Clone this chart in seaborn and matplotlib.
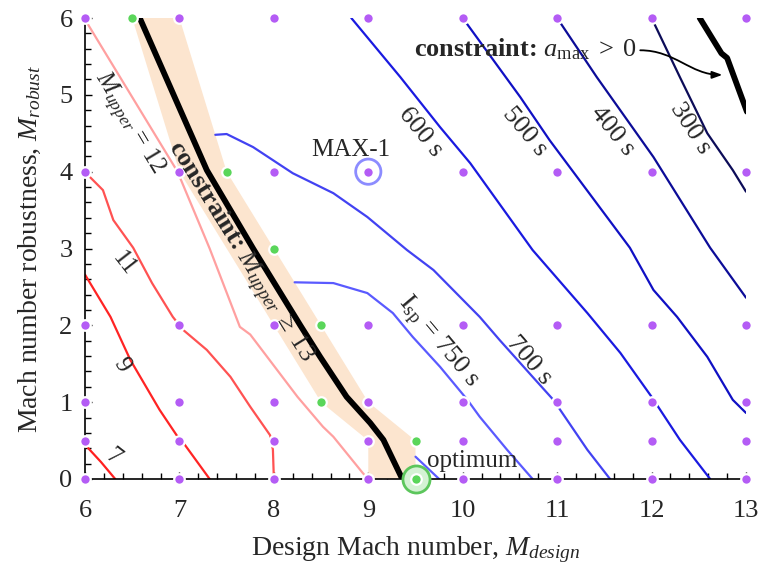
import matplotlib
matplotlib.use("Agg")
import matplotlib.pyplot as plt
import seaborn as sns
from matplotlib.ticker import MultipleLocator
from matplotlib.patches import FancyArrowPatch
from matplotlib.path import Path

# ---------------- data ----------------
# sampled design grid
grid_mach = [6, 7, 8, 9, 10, 11, 12, 13]
grid_robust = [0, 0.5, 1, 2, 4, 6]
# refinement samples near the constraint boundary
refined_mach = [6.5, 7.5, 8.0, 8.5, 8.5, 9.5, 9.5]
refined_robust = [6.0, 4.0, 3.0, 2.0, 1.0, 0.5, 0.0]

# M_upper contours
mu7_x = [6.02, 6.17, 6.32]
mu7_y = [0.42, 0.22, 0.0]
mu9_x = [6.0, 6.27, 6.48, 6.79, 6.97, 7.06, 7.32]
mu9_y = [2.66, 2.11, 1.55, 0.90, 0.57, 0.44, 0.0]
mu11_x = [6.02, 6.19, 6.30, 6.51, 6.71, 6.93, 7.04, 7.29, 7.54, 7.75, 7.96, 7.99, 8.0]
mu11_y = [3.97, 3.76, 3.37, 3.01, 2.55, 2.11, 1.94, 1.68, 1.33, 0.94, 0.57, 0.38, 0.0]
mu12_x = [6.02, 6.98, 7.32, 7.64, 7.75, 8.25, 8.52, 8.63, 8.94, 9.0]
mu12_y = [5.94, 4.0, 3.0, 1.98, 1.88, 1.07, 0.68, 0.55, 0.08, 0.0]

# M_upper >= 13 constraint boundary and its uncertainty band
con13_x = [6.58, 7.29, 7.78, 8.28, 8.49, 8.77, 9.02, 9.16, 9.36]
con13_y = [6.0, 4.02, 3.0, 2.0, 1.59, 1.07, 0.73, 0.51, 0.0]
band_x = [6.5, 7.0, 7.5, 8.0, 8.5, 9.0, 9.5, 9.5, 9.0, 9.0, 8.5, 8.0, 7.5, 7.0]
band_y = [6.0, 6.0, 4.0, 3.0, 2.0, 1.0, 0.5, 0.0, 0.0, 0.5, 1.0, 2.0, 3.0, 4.0]

# a_max > 0 constraint boundary
amax_x = [12.51, 12.74, 12.80, 13.01]
amax_y = [6.0, 5.54, 5.48, 4.78]

# specific impulse contours (s)
isp750_x = [8.22, 8.63, 8.99, 9.26, 9.47, 9.76, 10.05, 10.18, 10.47, 10.74]
isp750_y = [2.56, 2.55, 2.42, 2.16, 1.85, 1.46, 1.03, 0.81, 0.38, 0.0]
isp750b_x = [9.5, 9.75]
isp750b_y = [0.29, 0.0]
isp700_x = [7.38, 7.50, 7.78, 8.20, 8.63, 8.99, 9.41, 9.69, 10.18, 10.39, 10.74, 10.96, 11.32, 11.56]
isp700_y = [4.48, 4.49, 4.32, 3.98, 3.72, 3.41, 2.98, 2.72, 2.11, 1.81, 1.33, 1.03, 0.38, 0.0]
isp600_x = [8.82, 9.34, 9.76, 10.08, 10.74, 11.32, 11.67, 12.0, 12.30, 12.62]
isp600_y = [6.0, 5.23, 4.58, 4.11, 2.98, 2.16, 1.64, 1.07, 0.51, 0.0]
isp500_x = [10.0, 10.61, 10.92, 11.77, 12.02, 12.27, 12.59, 12.86, 13.0]
isp500_y = [6.0, 4.97, 4.41, 3.01, 2.46, 2.11, 1.59, 1.03, 0.86]
isp400_x = [11.0, 11.42, 12.02, 12.62, 13.0]
isp400_y = [6.0, 5.23, 4.19, 3.01, 2.36]
isp300_x = [12.0, 12.30, 12.59, 12.86, 13.0]
isp300_y = [6.0, 5.23, 4.50, 4.02, 3.74]

max1_point = (9.0, 4.0)
optimum_point = (9.5, 0.0)

# ---------------- style ----------------
sns.set_theme(style="ticks")
plt.rcParams["font.family"] = ["Liberation Serif", "DejaVu Serif"]
plt.rcParams["mathtext.fontset"] = "custom"
plt.rcParams["mathtext.rm"] = "Liberation Serif"
plt.rcParams["mathtext.it"] = "Liberation Serif:italic"
plt.rcParams["mathtext.bf"] = "Liberation Serif:bold"

fig = plt.figure(figsize=(7.61, 5.72), dpi=100)
ax = fig.add_axes([0.1117, 0.1626, 0.8686, 0.8059])

ax.fill(band_x, band_y, color="#fce5cf", lw=0, zorder=1)


def curve(xs, ys, color, lw=1.6, z=2):
    sns.lineplot(x=xs, y=ys, sort=False, estimator=None, color=color,
                 lw=lw, ax=ax, zorder=z)


curve(mu7_x, mu7_y, "#ff1f1f")
curve(mu9_x, mu9_y, "#ff2424")
curve(mu11_x, mu11_y, "#ff5252")
curve(mu12_x, mu12_y, "#ffa0a0")

curve(isp750_x, isp750_y, "#5a5aff")
curve(isp750b_x, isp750b_y, "#5a5aff")
curve(isp700_x, isp700_y, "#4242f2")
curve(isp600_x, isp600_y, "#1a1ae0")
curve(isp500_x, isp500_y, "#1010c4")
curve(isp400_x, isp400_y, "#0c0c98")
curve(isp300_x, isp300_y, "#0c0c58")

curve(con13_x, con13_y, "black", lw=4.2, z=3)
curve(amax_x, amax_y, "black", lw=4.2, z=3)

# highlighted designs
ax.scatter([optimum_point[0]], [optimum_point[1]], s=380, facecolor="#d4f2d4",
           edgecolor="#5cc65c", lw=2, zorder=6, clip_on=False)
ax.scatter([max1_point[0]], [max1_point[1]], s=330, facecolor="none",
           edgecolor="#8c8cff", lw=2, zorder=6, clip_on=False)

gx = [x for y in grid_robust for x in grid_mach]
gy = [y for y in grid_robust for x in grid_mach]
sns.scatterplot(x=gx, y=gy, color="#b45cf5", s=58, edgecolor="white",
                linewidth=1.6, ax=ax, zorder=7, clip_on=False)
sns.scatterplot(x=refined_mach, y=refined_robust, color="#5ad65a", s=58,
                edgecolor="white", linewidth=1.6, ax=ax, zorder=8, clip_on=False)

# contour labels
lab = dict(ha="center", va="center", rotation_mode="anchor", zorder=9)
ax.text(6.30, 0.29, "7", fontsize=18, rotation=-38, **lab)
ax.text(6.39, 1.48, "9", fontsize=18, rotation=-58, **lab)
ax.text(6.41, 2.80, "11", fontsize=18, rotation=-52, **lab)
ax.text(6.46, 4.63, r"$M_{upper}$ = 12", fontsize=18, rotation=-59, **lab)
ax.text(7.63, 2.95, r"constraint: $M_{upper}\;\geq\;13$", fontweight="bold",
        fontsize=19, rotation=-58, **lab)
ax.text(9.55, 4.52, "600 s", fontsize=19, rotation=-51, **lab)
ax.text(10.66, 4.52, "500 s", fontsize=19, rotation=-50, **lab)
ax.text(11.59, 4.53, "400 s", fontsize=19, rotation=-51, **lab)
ax.text(12.41, 4.56, "300 s", fontsize=19, rotation=-57, **lab)
ax.text(10.70, 1.55, "700 s", fontsize=19, rotation=-49, **lab)
ax.text(9.73, 1.78, r"I$_{\mathrm{sp}}$ = 750 s", fontsize=19, rotation=-50, **lab)
ax.text(8.81, 4.28, "MAX-1", fontsize=18, ha="center", va="center", zorder=9)
ax.text(10.10, 0.24, "optimum", fontsize=18, ha="center", va="center", zorder=9)
ax.text(11.84, 5.60, r"constraint: $a_{\mathrm{max}}\;>\;0$", fontweight="bold",
        fontsize=19, ha="right", va="center", zorder=9)

arrow_path = Path([(11.88, 5.58), (12.25, 5.58), (12.41, 5.26), (12.75, 5.26)],
                  [Path.MOVETO, Path.CURVE4, Path.CURVE4, Path.CURVE4])
ax.add_patch(FancyArrowPatch(path=arrow_path,
                             arrowstyle="-|>,head_length=0.5,head_width=0.18",
                             mutation_scale=12, lw=1.3, color="black", zorder=9))

# axes
ax.set_xlim(6, 13)
ax.set_ylim(0, 6)
ax.xaxis.set_major_locator(MultipleLocator(1))
ax.yaxis.set_major_locator(MultipleLocator(1))
ax.xaxis.set_minor_locator(MultipleLocator(0.2))
ax.yaxis.set_minor_locator(MultipleLocator(0.2))
ax.tick_params(which="both", direction="in", color="black", width=1.0,
               labelsize=19)
ax.tick_params(axis="x", which="major", length=5, pad=15)
ax.tick_params(axis="y", which="major", length=5, pad=9)
ax.tick_params(which="minor", length=4)
for s in ("top", "right"):
    ax.spines[s].set_visible(False)
for s in ("left", "bottom"):
    ax.spines[s].set_color("black")
    ax.spines[s].set_linewidth(1.2)
ax.set_xlabel(r"Design Mach number, $M_{design}$", fontsize=20, labelpad=9)
ax.set_ylabel(r"Mach number robustness, $M_{robust}$", fontsize=20, labelpad=12)

fig.savefig("out.png", dpi=100, facecolor="white")
